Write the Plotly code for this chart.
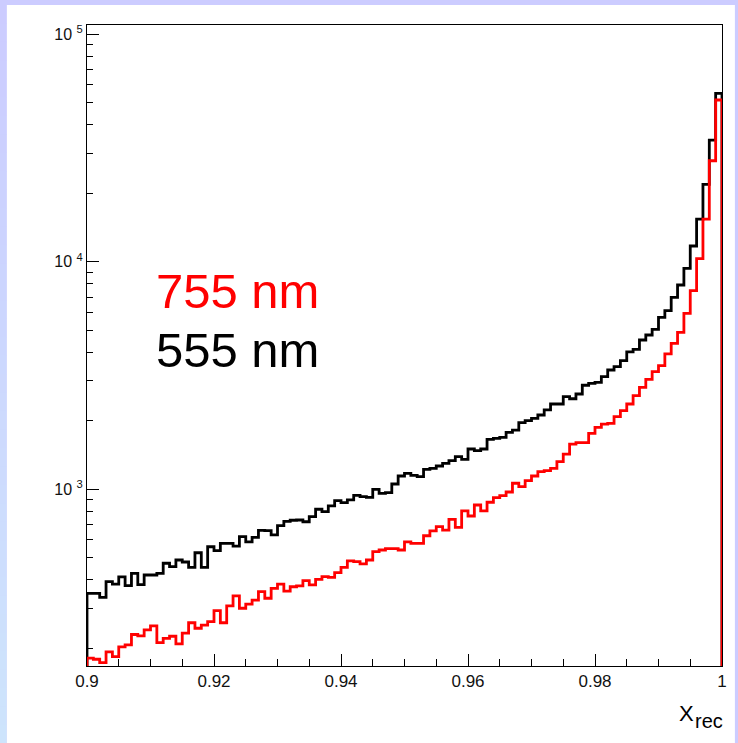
import numpy as np
import plotly.graph_objects as go

# Histogram binning: 100 equal bins on [0.9, 1.0]
x_min, x_max, n_bins = 0.9, 1.0, 100

# Bin contents, 555 nm (black)
counts_555nm = [
    349, 349, 335, 393, 383, 412, 377, 427, 381, 420,
    420, 427, 473, 457, 489, 479, 454, 526, 454, 559,
    537, 579, 579, 563, 619, 587, 615, 660, 658, 631,
    692, 723, 731, 733, 720, 758, 817, 797, 845, 891,
    873, 898, 941, 928, 922, 1000, 960, 966, 1055, 1144,
    1176, 1152, 1137, 1224, 1237, 1266, 1301, 1336, 1391, 1355,
    1504, 1479, 1504, 1659, 1675, 1692, 1780, 1820, 1963, 2002,
    2051, 2121, 2232, 2371, 2371, 2553, 2501, 2624, 2866, 2924,
    2953, 3126, 3345, 3459, 3675, 4015, 4125, 4533, 4767, 5050,
    5702, 6100, 6980, 7907, 9357, 11735, 15420, 21910, 34300, 55050,
]

# Bin contents, 755 nm (red)
counts_755nm = [
    181, 179, 173, 193, 184, 203, 207, 230, 227, 241,
    251, 212, 221, 226, 209, 233, 259, 245, 253, 262,
    293, 259, 307, 340, 300, 313, 326, 355, 332, 367,
    383, 357, 373, 376, 397, 380, 402, 413, 410, 430,
    454, 485, 481, 470, 489, 532, 541, 548, 548, 541,
    587, 579, 579, 625, 656, 685, 662, 738, 680, 803,
    763, 853, 803, 877, 919, 938, 973, 1063, 1027, 1091,
    1144, 1195, 1208, 1236, 1323, 1429, 1581, 1603, 1603, 1762,
    1873, 1936, 1950, 2085, 2216, 2371, 2580, 2807, 3045, 3288,
    3494, 3935, 4384, 4898, 5938, 7464, 10320, 15420, 27820, 51440,
]

x_tick_vals = [0.9, 0.92, 0.94, 0.96, 0.98, 1.0]
x_tick_text = ["0.9", "0.92", "0.94", "0.96", "0.98", "1"]
y_tick_vals = [1e3, 1e4, 1e5]
y_tick_text = ["10\u00a0<sup>3</sup>", "10\u00a0<sup>4</sup>", "10\u00a0<sup>5</sup>"]
series_labels = ["755 nm", "555 nm"]
x_title_main, x_title_sub = "X", "rec"

y_lo, y_hi = 167.2, 10 ** 5.041

# Canvas geometry (pixels)
W, H = 738, 743
ML, MR, MT, MB = 87, 11, 25, 77
PW, PH = W - ML - MR, H - MT - MB
FONT = "Liberation Sans, Arial, sans-serif"


def px_x(px):
    return (px - ML) / PW


def px_y(py):
    return 1 - (py - MT) / PH


def step_path(counts):
    """Outline of a histogram: up from below the axis, across every bin, back down."""
    edges = np.linspace(x_min, x_max, n_bins + 1)
    floor = 1.0
    xs = [edges[0]] + list(edges[:-1]) + [edges[-1], edges[-1]]
    ys = [floor] + list(counts) + [counts[-1], floor]
    return xs, ys


fig = go.Figure()
for counts, color in [(counts_555nm, "#000000"), (counts_755nm, "#ff0000")]:
    xs, ys = step_path(counts)
    fig.add_trace(go.Scatter(
        x=xs, y=ys, mode="lines",
        line=dict(color=color, width=2.8, shape="hv"),
        hoverinfo="skip", showlegend=False,
    ))

# Canvas background: lavender border strip on top and a graded strip on the left
shapes = [dict(type="rect", xref="paper", yref="paper",
               x0=px_x(6), x1=px_x(W + 2), y0=px_y(H + 2), y1=px_y(5),
               fillcolor="white", line=dict(width=0), layer="below")]
n_strips = 40
top_rgb, bot_rgb = (204, 204, 255), (205, 228, 252)
for i in range(n_strips):
    t = i / (n_strips - 1)
    r, g, b = [round(a + (c - a) * t) for a, c in zip(top_rgb, bot_rgb)]
    y0 = 5 + (H - 5) * i / n_strips
    y1 = 5 + (H - 5) * (i + 1) / n_strips
    shapes.append(dict(type="rect", xref="paper", yref="paper",
                       x0=px_x(-1), x1=px_x(6), y0=px_y(y1 + 0.5), y1=px_y(y0),
                       fillcolor=f"rgb({r},{g},{b})", line=dict(width=0), layer="below"))

annotations = [
    dict(text=series_labels[0], xref="paper", yref="paper",
         x=px_x(155), y=px_y(291), xanchor="left", yanchor="middle",
         showarrow=False, font=dict(family=FONT, size=49, color="#ff0000")),
    dict(text=series_labels[1], xref="paper", yref="paper",
         x=px_x(155), y=px_y(350), xanchor="left", yanchor="middle",
         showarrow=False, font=dict(family=FONT, size=49, color="#000000")),
    dict(text=x_title_main, xref="paper", yref="paper",
         x=px_x(682), y=px_y(713), xanchor="left", yanchor="middle",
         showarrow=False, font=dict(family=FONT, size=22, color="#000000")),
    dict(text=x_title_sub, xref="paper", yref="paper",
         x=px_x(698), y=px_y(720.5), xanchor="left", yanchor="middle",
         showarrow=False, font=dict(family=FONT, size=20, color="#000000")),
]

fig.update_layout(
    width=W, height=H,
    margin=dict(l=ML, r=MR, t=MT, b=MB, pad=0),
    paper_bgcolor="#ccccff", plot_bgcolor="white",
    shapes=shapes, annotations=annotations,
    font=dict(family=FONT, color="#000000"),
    xaxis=dict(
        range=[x_min, x_max], showgrid=False, zeroline=False,
        showline=True, mirror=True, linecolor="#000000", linewidth=1,
        ticks="inside", ticklen=12, tickwidth=1, tickcolor="#000000",
        tickvals=x_tick_vals, ticktext=x_tick_text,
        tickfont=dict(family=FONT, size=17, color="#111111"),
        minor=dict(ticks="inside", ticklen=7, tickwidth=1, tickcolor="#000000", dtick=0.005),
    ),
    yaxis=dict(
        type="log", range=[np.log10(y_lo), np.log10(y_hi)],
        showgrid=False, zeroline=False,
        showline=True, mirror=True, linecolor="#000000", linewidth=1,
        ticks="inside", ticklen=12, tickwidth=1, tickcolor="#000000",
        tickvals=y_tick_vals, ticktext=y_tick_text,
        tickfont=dict(family=FONT, size=16, color="#111111"),
        minor=dict(ticks="inside", ticklen=6, tickwidth=1, tickcolor="#000000",
                   tickvals=[m * 10 ** d for d in (2, 3, 4) for m in range(2, 10)]),
    ),
)

fig.write_html("out.html")
